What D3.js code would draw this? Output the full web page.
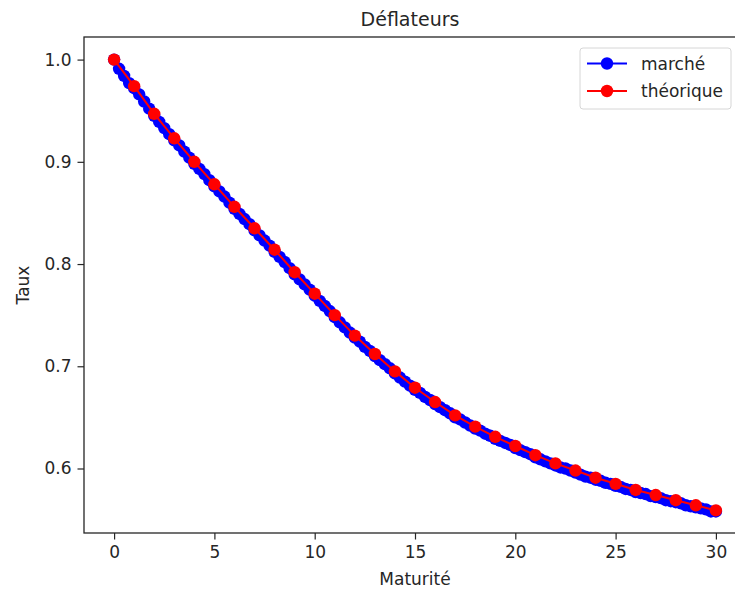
<!DOCTYPE html>
<html>
<head>
<meta charset="utf-8">
<script src="https://cdn.jsdelivr.net/npm/d3@7"></script>
<style>
  html, body { margin: 0; padding: 0; background: #fff; }
  svg { display: block; font-family: "DejaVu Sans", sans-serif; }
</style>
</head>
<body>
<svg id="chart" width="735" height="590"></svg>
<script>
// ---- Data ----
const title = "Déflateurs";
const xLabel = "Maturité";
const yLabel = "Taux";
const seriesNames = ["marché", "théorique"];

// théorique : maturités entières 0..30
const theoMaturities = d3.range(0, 31);
const theoValues = [1.000, 0.974, 0.947, 0.923, 0.900, 0.878, 0.856, 0.835, 0.814, 0.792,
  0.771, 0.750, 0.730, 0.712, 0.695, 0.679, 0.665, 0.652, 0.641, 0.631,
  0.622, 0.613, 0.605, 0.598, 0.591, 0.585, 0.579, 0.574, 0.569, 0.564, 0.559];

// marché : maturités trimestrielles 0..30
const marketMaturities = d3.range(0, 121).map(i => i / 4);
const marketValues = [
  1.000, 0.991, 0.984, 0.977,
  0.972, 0.966, 0.959, 0.952,
  0.945, 0.939, 0.933, 0.927,
  0.921, 0.916, 0.910, 0.904,
  0.898, 0.893, 0.888, 0.882,
  0.876, 0.871, 0.866, 0.860,
  0.854, 0.849, 0.844, 0.839,
  0.833, 0.828, 0.823, 0.818,
  0.812, 0.807, 0.802, 0.796,
  0.790, 0.785, 0.780, 0.775,
  0.769, 0.764, 0.759, 0.754,
  0.748, 0.743, 0.738, 0.733,
  0.728, 0.724, 0.719, 0.715,
  0.710, 0.706, 0.702, 0.698,
  0.693, 0.689, 0.685, 0.681,
  0.677, 0.674, 0.670, 0.667,
  0.663, 0.660, 0.657, 0.654,
  0.650, 0.648, 0.645, 0.642,
  0.639, 0.637, 0.634, 0.632,
  0.629, 0.627, 0.625, 0.623,
  0.620, 0.618, 0.616, 0.614,
  0.611, 0.609, 0.607, 0.605,
  0.603, 0.601, 0.600, 0.598,
  0.596, 0.594, 0.592, 0.591,
  0.589, 0.588, 0.586, 0.585,
  0.583, 0.582, 0.580, 0.579,
  0.577, 0.576, 0.575, 0.573,
  0.572, 0.571, 0.569, 0.568,
  0.567, 0.566, 0.564, 0.563,
  0.562, 0.561, 0.560, 0.558,
  0.558];

const xTicks = [0, 5, 10, 15, 20, 25, 30];
const yTicks = [0.6, 0.7, 0.8, 0.9, 1.0];

// ---- Layout ----
const svg = d3.select("#chart");
const L = 84, R = 746, T = 37, B = 533;

const x = d3.scaleLinear().domain([-1.5, 31.5]).range([L, R]);
const yMin = 0.5369, yMax = 1.0221;
const y = d3.scaleLinear().domain([yMin, yMax]).range([B, T]);

const fs = 17;
const ink = "#262626";

// axes
const xAxis = d3.axisBottom(x).tickValues(xTicks).tickFormat(d3.format("d")).tickSize(6.5).tickPadding(6);
const yAxis = d3.axisLeft(y).tickValues(yTicks).tickFormat(d3.format(".1f")).tickSize(6.5).tickPadding(6);

const gx = svg.append("g").attr("transform", `translate(0,${B})`).call(xAxis);
const gy = svg.append("g").attr("transform", `translate(${L},0)`).call(yAxis);
[gx, gy].forEach(g => {
  g.select(".domain").remove();
  g.selectAll("line").attr("stroke", ink).attr("stroke-width", 1.2);
  g.selectAll("text").attr("font-size", fs).attr("fill", ink).attr("font-family", "DejaVu Sans, sans-serif");
});

svg.append("clipPath").attr("id", "clip").append("rect")
  .attr("x", L).attr("y", T).attr("width", R - L).attr("height", B - T);

const plot = svg.append("g").attr("clip-path", "url(#clip)");

const line = d3.line().x(d => x(d[0])).y(d => y(d[1]));
const market = marketMaturities.map((m, i) => [m, marketValues[i]]);
const theo = theoMaturities.map((m, i) => [m, theoValues[i]]);

const rad = 6.2;
plot.append("path").datum(market).attr("d", line).attr("fill", "none").attr("stroke", "blue").attr("stroke-width", 2);
plot.selectAll("circle.m").data(market).join("circle").attr("class", "m")
  .attr("cx", d => x(d[0])).attr("cy", d => y(d[1])).attr("r", rad).attr("fill", "blue");

plot.append("path").datum(theo).attr("d", line).attr("fill", "none").attr("stroke", "red").attr("stroke-width", 2);
plot.selectAll("circle.t").data(theo).join("circle").attr("class", "t")
  .attr("cx", d => x(d[0])).attr("cy", d => y(d[1])).attr("r", rad).attr("fill", "red");

// frame
svg.append("rect").attr("x", L).attr("y", T).attr("width", R - L).attr("height", B - T)
  .attr("fill", "none").attr("stroke", ink).attr("stroke-width", 1.3);

// title & labels
svg.append("text").attr("x", (L + R) / 2 - 5).attr("y", 26).attr("text-anchor", "middle")
  .attr("font-size", 19).attr("fill", ink).text(title);
svg.append("text").attr("x", (L + R) / 2).attr("y", 585).attr("text-anchor", "middle")
  .attr("font-size", fs).attr("fill", ink).text(xLabel);
svg.append("text").attr("transform", `translate(29,${(T + B) / 2}) rotate(-90)`).attr("text-anchor", "middle")
  .attr("font-size", fs).attr("fill", ink).text(yLabel);

// legend
const lg = svg.append("g");
const lx = 580, ly = 48, lw = 151, lh = 61;
lg.append("rect").attr("x", lx).attr("y", ly).attr("width", lw).attr("height", lh)
  .attr("rx", 3).attr("fill", "white").attr("fill-opacity", 0.8).attr("stroke", "#d6d6d6");
const colors = ["blue", "red"];
seriesNames.forEach((n, i) => {
  const cy = ly + 15.5 + i * 27.5;
  lg.append("line").attr("x1", lx + 7).attr("x2", lx + 47).attr("y1", cy).attr("y2", cy)
    .attr("stroke", colors[i]).attr("stroke-width", 2);
  lg.append("circle").attr("cx", lx + 27).attr("cy", cy).attr("r", rad).attr("fill", colors[i]);
  lg.append("text").attr("x", lx + 61).attr("y", cy + 6).attr("font-size", fs).attr("fill", ink).text(n);
});
</script>
</body>
</html>
